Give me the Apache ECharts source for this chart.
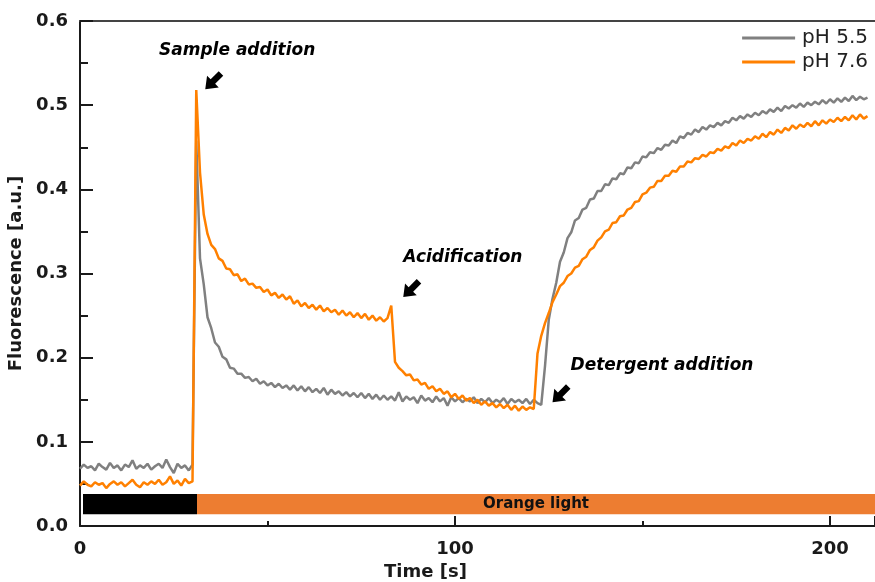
<!DOCTYPE html>
<html>
<head>
<meta charset="utf-8">
<script src="https://cdn.jsdelivr.net/npm/echarts@6/dist/echarts.min.js"></script>
<style>html,body{margin:0;padding:0;background:#fff}#c{width:875px;height:582px}</style>
</head>
<body>
<div id="c"></div>
<script>
// sampling grid of the recordings (s)
const tStart = 0, tStep = 1;

const seriesNames = ['pH 5.5', 'pH 7.6'];

// pH 5.5 fluorescence, one reading per second from t = 0 s
const ph55 = [
0.068,0.073,0.069,0.071,0.066,0.074,0.070,0.067,0.075,0.069,
0.072,0.066,0.073,0.070,0.078,0.068,0.072,0.069,0.074,0.067,
0.071,0.074,0.069,0.079,0.070,0.063,0.074,0.069,0.072,0.066,
0.073,
0.458,0.318,0.287,0.248,0.235,0.218,0.213,0.201,0.198,0.188,
0.187,0.181,0.181,0.176,0.177,0.172,0.175,0.169,0.172,0.167,
0.170,0.165,0.169,0.164,0.167,0.162,0.167,0.161,0.166,0.160,
0.165,0.159,0.163,0.158,0.164,0.156,0.162,0.157,0.160,0.155,
0.159,0.154,0.158,0.153,0.158,0.152,0.157,0.151,0.156,0.150,
0.155,0.150,0.154,0.149,0.159,0.148,0.154,0.150,0.153,0.146,
0.155,0.149,0.152,0.147,0.154,0.148,0.152,0.143,0.153,0.148,
0.152,0.147,0.151,0.148,0.153,0.146,0.151,0.147,0.152,0.146,
0.150,0.147,0.152,0.145,0.151,0.147,0.150,0.146,0.151,0.145,
0.150,0.146,0.144,
0.190,0.245,0.270,0.289,0.314,0.325,0.342,
0.349,0.363,0.366,0.376,0.378,0.388,0.389,0.398,0.398,0.406,
0.405,0.413,0.412,0.419,0.418,0.426,0.425,0.432,0.431,0.439,
0.438,0.444,0.443,0.449,0.447,0.453,0.452,0.458,0.455,0.463,
0.461,0.467,0.465,0.471,0.468,0.474,0.471,0.476,0.474,0.479,
0.476,0.481,0.479,0.485,0.482,0.487,0.484,0.489,0.486,0.491,
0.488,0.493,0.490,0.495,0.492,0.497,0.493,0.499,0.496,0.500,
0.497,0.502,0.498,0.503,0.500,0.504,0.501,0.506,0.502,0.507,
0.503,0.508,0.504,0.509,0.505,0.511,0.506,0.510,0.507,0.509
];

// pH 7.6 fluorescence, one reading per second from t = 0 s
const ph76 = [
0.048,0.053,0.049,0.047,0.052,0.049,0.051,0.045,0.050,0.053,
0.049,0.052,0.047,0.051,0.055,0.049,0.046,0.052,0.049,0.053,
0.050,0.055,0.049,0.052,0.059,0.050,0.054,0.048,0.056,0.051,
0.053,
0.518,0.420,0.370,0.347,0.334,0.329,0.318,0.315,0.306,0.305,
0.298,0.299,0.291,0.294,0.287,0.288,0.283,0.284,0.278,0.281,
0.274,0.277,0.271,0.275,0.269,0.273,0.264,0.268,0.261,0.265,
0.259,0.263,0.257,0.262,0.255,0.259,0.254,0.257,0.251,0.256,
0.250,0.254,0.248,0.253,0.247,0.252,0.245,0.250,0.244,0.248,
0.243,0.247,0.262,
0.195,0.188,0.184,0.179,0.180,0.173,0.174,
0.168,0.170,0.163,0.166,0.160,0.163,0.157,0.160,0.153,0.157,
0.151,0.155,0.149,0.152,0.146,0.150,0.144,0.148,0.143,0.146,
0.141,0.145,0.140,0.144,0.138,0.143,0.137,0.142,0.138,0.141,
0.139,
0.205,0.226,0.241,0.253,0.266,0.275,0.285,0.289,0.297,
0.300,0.307,0.309,0.317,0.320,0.328,0.331,0.339,0.343,0.350,
0.352,0.360,0.361,0.368,0.369,0.376,0.378,0.385,0.386,0.394,
0.396,0.402,0.403,0.410,0.410,0.416,0.416,0.422,0.421,0.427,
0.427,0.433,0.432,0.437,0.436,0.441,0.439,0.444,0.443,0.448,
0.446,0.451,0.449,0.455,0.452,0.458,0.455,0.460,0.458,0.463,
0.460,0.466,0.462,0.468,0.465,0.471,0.467,0.473,0.470,0.476,
0.472,0.477,0.474,0.479,0.475,0.481,0.476,0.482,0.478,0.483,
0.480,0.485,0.481,0.486,0.482,0.488,0.483,0.489,0.484,0.487
];

// illumination phases (time range in s, band drawn between yLow..yHigh)
const phaseLabels = ['', 'Orange light'];
const phaseStart = [0.8, 31.2];
const phaseEnd = [31.2, 212];
const phaseBand = [0.014, 0.038];

// annotations: text position and arrow tip (data coordinates)
const noteTexts = ['Sample addition', 'Acidification', 'Detergent addition'];
const noteTextX = [41.9, 102.1, 155.2];
const noteTextY = [0.565, 0.3195, 0.191];
const noteArrowX = [33.4, 86.2, 126.0];
const noteArrowY = [0.519, 0.272, 0.147];

const xTicks = {min: 0, max: 212, interval: 100};
const yTicks = {min: 0, max: 0.6, interval: 0.1};

const toPairs = arr => arr.map((v, i) => [tStart + i * tStep, v]);

const FONT = 'DejaVu Sans';
const axisCol = '#1a1a1a';
const arrowPath = 'path://M0,20 L2,5 L6,9 L15,0 L20,5 L11,14 L15,18 Z';

const chart = echarts.init(document.getElementById('c'), null, {renderer: 'canvas'});
chart.setOption({
  animation: false,
  backgroundColor: '#ffffff',
  grid: {left: 80, right: 0, top: 21, bottom: 56, containLabel: false, outerBoundsMode: 'none'},
  legend: {
    data: seriesNames,
    orient: 'vertical',
    right: 2, top: 23,
    icon: 'rect',
    itemWidth: 53, itemHeight: 3, itemGap: 4,
    textStyle: {fontFamily: FONT, fontSize: 20, color: '#222', padding: [0, 0, 0, 2]}
  },
  xAxis: [{
    type: 'value', min: xTicks.min, max: xTicks.max, interval: xTicks.interval,
    name: 'Time [s]', nameLocation: 'middle', nameGap: 36,
    nameTextStyle: {fontFamily: FONT, fontWeight: 'bold', fontSize: 18, color: axisCol, padding: [0, 104, 0, 0]},
    axisLine: {show: true, onZero: false, lineStyle: {color: axisCol, width: 2}},
    axisTick: {show: true, inside: true, length: 10, lineStyle: {color: axisCol, width: 2}},
    minorTick: {show: true, splitNumber: 2, length: 5, lineStyle: {color: axisCol, width: 2}},
    axisLabel: {fontFamily: FONT, fontWeight: 'bold', fontSize: 18, color: axisCol, margin: 14, showMaxLabel: false},
    splitLine: {show: false}
  }, {
    type: 'value', position: 'top', min: xTicks.min, max: xTicks.max,
    axisLine: {show: true, onZero: false, lineStyle: {color: '#444', width: 2}},
    axisTick: {show: false}, axisLabel: {show: false}, splitLine: {show: false}
  }],
  yAxis: {
    type: 'value', min: yTicks.min, max: yTicks.max, interval: yTicks.interval,
    name: 'Fluorescence [a.u.]', nameLocation: 'middle', nameGap: 52,
    nameTextStyle: {fontFamily: FONT, fontWeight: 'bold', fontSize: 18, color: axisCol},
    axisLine: {show: true, onZero: false, lineStyle: {color: axisCol, width: 2}},
    axisTick: {show: true, inside: true, length: 13, lineStyle: {color: axisCol, width: 2}},
    minorTick: {show: true, splitNumber: 2, length: 8, lineStyle: {color: axisCol, width: 2}},
    axisLabel: {fontFamily: FONT, fontWeight: 'bold', fontSize: 18, color: axisCol, margin: 12,
      formatter: v => v.toFixed(1)},
    splitLine: {show: false}
  },
  series: [
    {
      name: 'light', type: 'line', data: [], silent: true,
      markArea: {
        silent: true,
        data: phaseLabels.map((lab, i) => [
          {xAxis: phaseStart[i], yAxis: phaseBand[0],
           itemStyle: {color: i === 0 ? '#000000' : '#ED7D31', opacity: 1},
           label: {show: !!lab, position: 'inside', formatter: lab,
                   fontFamily: FONT, fontWeight: 'bold', fontSize: 15, color: '#111'}},
          {xAxis: phaseEnd[i], yAxis: phaseBand[1]}
        ])
      }
    },
    {
      name: seriesNames[0], type: 'line', data: toPairs(ph55), symbol: 'none',
      lineStyle: {color: '#808080', width: 2.5}, itemStyle: {color: '#808080'}
    },
    {
      name: seriesNames[1], type: 'line', data: toPairs(ph76), symbol: 'none',
      lineStyle: {color: '#FF8000', width: 2.5}, itemStyle: {color: '#FF8000'}
    },
    {
      name: 'arrows', type: 'scatter', silent: true,
      data: noteArrowX.map((x, i) => [x, noteArrowY[i]]),
      symbol: arrowPath, symbolSize: [18, 18], symbolOffset: [9, -9],
      itemStyle: {color: '#000', opacity: 1}
    },
    {
      name: 'notes', type: 'scatter', silent: true,
      data: noteTexts.map((t, i) => ({value: [noteTextX[i], noteTextY[i]], name: t})),
      symbolSize: 1, itemStyle: {color: '#fff', opacity: 1},
      label: {show: true, position: 'inside', formatter: p => p.name,
              fontFamily: FONT, fontWeight: 'bold', fontStyle: 'italic', fontSize: 17, color: '#000'}
    }
  ]
});
</script>
</body>
</html>
